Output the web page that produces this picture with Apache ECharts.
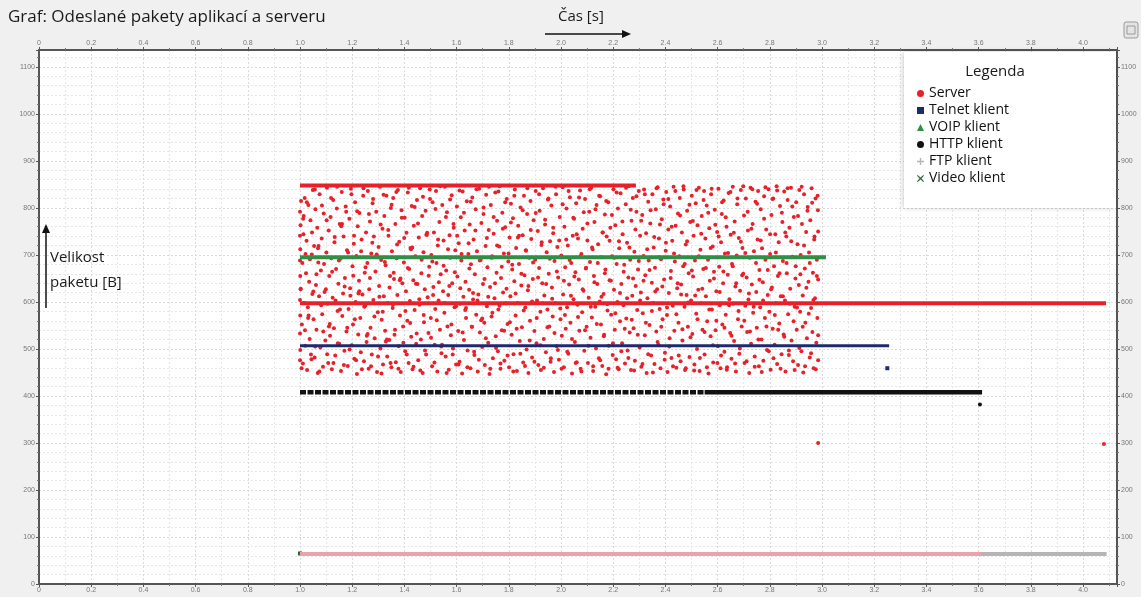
<!DOCTYPE html>
<html>
<head>
<meta charset="utf-8">
<script src="https://cdn.jsdelivr.net/npm/echarts@6/dist/echarts.min.js"></script>
<style>
  html, body { margin: 0; padding: 0; background: #f0f0f0; }
  #chart { width: 1141px; height: 597px; }
</style>
</head>
<body>
<div id="chart"></div>
<script>
// osy
const xMax = 4.13, yMax = 1136;
const legendNames = ['Server', 'Telnet klient', 'VOIP klient', 'HTTP klient', 'FTP klient', 'Video klient'];

// server - odeslane pakety [cas ms, velikost B]
const serverCloud = [
  [1000,792],[1000,741],[1000,688],[1001,655],[1000,604],[1001,571],[1000,533],[1001,498],[1000,476],[1002,763],[1001,712],[1002,627],
  [1004,815],[1007,552],[1009,683],[1011,469],[1013,744],[1016,598],[1018,821],[1020,507],[1023,661],[1025,730],[1027,455],[1030,589],[1032,806],[1035,643],[1037,521],[1040,774],[1042,488],[1045,701],[1047,617],[1049,838],
  [1052,563],[1054,719],[1056,482],[1059,797],[1061,636],[1063,541],[1066,758],[1068,449],[1070,684],[1073,612],[1075,829],[1078,503],[1080,667],[1083,735],[1085,574],[1088,462],[1091,788],[1094,621],[1097,518],
  [1101,705],[1103,843],[1105,596],[1108,470],[1110,752],[1112,655],[1115,528],[1117,781],[1120,693],[1122,457],[1125,609],[1127,817],[1130,544],[1132,727],[1135,486],[1138,670],[1141,799],[1144,581],[1147,639],
  [1150,511],[1152,766],[1155,692],[1157,453],[1160,834],[1162,570],[1165,618],[1167,739],[1170,496],[1172,651],[1175,803],[1178,537],[1180,710],[1183,464],[1186,585],[1189,777],[1192,629],[1195,841],[1198,508],
  [1201,676],[1203,552],[1206,724],[1208,479],[1211,812],[1213,600],[1216,698],[1218,447],[1221,761],[1223,531],[1226,645],[1228,789],[1231,566],[1233,493],[1236,733],[1239,616],[1242,826],[1245,474],[1248,662],
  [1250,592],[1253,748],[1255,515],[1258,683],[1260,836],[1263,458],[1265,627],[1268,771],[1270,545],[1273,703],[1275,488],[1278,810],[1281,604],[1283,739],[1286,523],[1289,665],[1292,792],[1295,451],[1298,578],
  [1301,717],[1303,634],[1306,845],[1308,501],[1311,689],[1313,562],[1316,756],[1318,467],[1321,612],[1323,783],[1326,539],[1328,678],[1331,826],[1334,484],[1336,597],[1339,741],[1342,519],[1345,655],[1348,800],
  [1350,461],[1352,708],[1355,587],[1357,821],[1360,649],[1362,530],[1365,766],[1367,472],[1370,693],[1373,615],[1375,838],[1378,506],[1380,728],[1383,571],[1386,451],[1389,795],[1392,640],[1395,548],[1398,684],
  [1401,779],[1403,495],[1406,623],[1408,747],[1411,560],[1413,833],[1416,470],[1418,670],[1421,602],[1423,715],[1426,526],[1428,804],[1431,457],[1434,646],[1436,762],[1439,583],[1442,697],[1445,511],[1448,817],
  [1450,638],[1453,476],[1455,737],[1458,594],[1460,842],[1463,520],[1465,661],[1468,783],[1470,449],[1473,706],[1475,557],[1478,627],[1481,794],[1483,488],[1486,743],[1489,610],[1492,534],[1495,675],[1498,819],
  [1501,566],[1503,700],[1506,463],[1508,812],[1511,632],[1513,748],[1516,509],[1518,585],[1521,836],[1523,683],[1526,452],[1528,720],[1531,603],[1534,770],[1536,541],[1539,659],[1542,491],[1545,806],[1548,623],
  [1550,731],[1553,577],[1555,845],[1558,484],[1560,667],[1563,791],[1565,548],[1568,615],[1570,456],[1573,742],[1575,694],[1578,529],[1581,827],[1583,640],[1586,501],[1589,758],[1592,589],[1595,710],[1598,467],
  [1601,803],[1603,654],[1606,538],[1608,725],[1611,473],[1613,596],[1616,780],[1618,688],[1621,448],[1623,835],[1626,611],[1628,519],[1631,752],[1634,643],[1636,566],[1639,814],[1642,497],[1645,702],[1648,626],
  [1650,765],[1653,459],[1655,680],[1658,547],[1660,822],[1663,605],[1665,733],[1668,487],[1670,659],[1673,797],[1675,573],[1678,708],[1681,452],[1683,616],[1686,841],[1689,535],[1692,689],[1695,768],[1698,504],
  [1701,638],[1703,787],[1706,556],[1708,466],[1711,719],[1713,828],[1716,591],[1718,674],[1721,513],[1723,753],[1726,447],[1728,632],[1731,806],[1734,569],[1736,697],[1739,480],[1742,745],[1745,608],[1748,833],
  [1750,527],[1753,662],[1755,773],[1758,495],[1760,584],[1763,718],[1765,846],[1768,458],[1770,651],[1773,540],[1775,790],[1778,620],[1781,703],[1783,475],[1786,759],[1789,597],[1792,819],[1795,553],[1798,686],
  [1801,461],[1803,737],[1806,612],[1808,809],[1811,530],[1813,669],[1816,778],[1818,489],[1821,644],[1823,839],[1826,571],[1828,715],[1831,453],[1834,598],[1836,762],[1839,681],[1842,517],[1845,801],[1848,635],
  [1850,546],[1853,742],[1855,471],[1858,826],[1860,657],[1863,588],[1865,710],[1868,499],[1870,787],[1873,625],[1875,449],[1878,694],[1881,560],[1883,815],[1886,734],[1889,482],[1892,649],[1895,774],[1898,538],
  [1901,690],[1903,836],[1906,512],[1908,603],[1911,751],[1913,466],[1916,672],[1918,794],[1921,579],[1923,455],[1926,727],[1928,640],[1931,842],[1934,521],[1936,614],[1939,765],[1942,493],[1945,706],[1948,584],
  [1950,818],[1953,660],[1955,548],[1958,729],[1960,473],[1963,805],[1965,631],[1968,569],[1970,746],[1973,451],[1975,687],[1978,597],[1981,829],[1983,506],[1986,717],[1989,652],[1992,477],[1995,781],[1998,563],
  [2001,699],[2003,528],[2006,844],[2008,616],[2011,461],[2013,760],[2016,674],[2018,543],[2021,799],[2023,589],[2026,720],[2028,490],[2031,637],[2034,823],[2036,556],[2039,683],[2042,448],[2045,741],[2048,606],
  [2050,777],[2053,515],[2055,663],[2058,810],[2060,472],[2063,594],[2065,735],[2068,648],[2070,539],[2073,837],[2075,458],[2078,702],[2081,578],[2083,756],[2086,624],[2089,496],[2092,819],[2095,671],[2098,547],
  [2101,731],[2103,470],[2106,609],[2108,792],[2111,685],[2113,524],[2116,843],[2118,567],[2121,712],[2123,453],[2126,655],[2128,770],[2131,590],[2134,501],[2136,806],[2139,638],[2142,723],[2145,480],[2148,601],
  [2150,825],[2153,552],[2155,695],[2158,464],[2160,748],[2163,617],[2165,530],[2168,786],[2170,669],[2173,446],[2175,739],[2178,582],[2181,812],[2183,507],[2186,646],[2189,758],[2192,573],[2195,697],[2198,487],
  [2201,840],[2203,626],[2206,541],[2208,763],[2211,478],[2213,681],[2216,600],[2218,799],[2221,457],[2223,714],[2226,559],[2228,831],[2231,638],[2234,512],[2236,744],[2239,593],[2242,679],[2245,469],[2248,808],
  [2250,565],[2253,726],[2255,497],[2258,652],[2260,846],[2263,535],[2265,690],[2268,455],[2270,773],[2273,613],[2275,821],[2278,544],[2281,707],[2283,475],[2286,634],[2289,792],[2292,583],[2295,669],[2298,836],
  [2301,503],[2303,741],[2306,620],[2308,462],[2311,785],[2313,576],[2316,698],[2318,839],[2321,529],[2323,657],[2326,746],[2328,449],[2331,608],[2334,813],[2336,688],[2339,551],[2342,767],[2345,486],[2348,641],
  [2350,829],[2353,598],[2355,716],[2358,468],[2360,673],[2363,797],[2365,537],[2368,627],[2370,844],[2373,509],[2375,735],[2378,585],[2381,459],[2383,691],[2386,776],[2389,563],[2392,818],[2395,648],[2398,492],
  [2401,709],[2403,834],[2406,572],[2408,451],[2411,754],[2413,619],[2416,523],[2418,803],[2421,666],[2423,481],[2426,730],[2428,592],[2431,845],[2434,539],[2436,686],[2439,762],[2442,460],[2445,629],[2448,788],
  [2450,556],[2453,697],[2455,821],[2458,474],[2460,637],[2463,748],[2465,518],[2468,676],[2470,839],[2473,590],[2475,455],[2478,722],[2481,615],[2483,794],[2486,547],[2489,661],[2492,483],[2495,770],[2498,603],
  [2501,826],[2503,532],[2506,654],[2508,741],[2511,467],[2513,688],[2516,810],[2518,575],[2521,500],[2523,763],[2526,626],[2528,843],[2531,453],[2534,711],[2536,597],[2539,783],[2542,541],[2545,670],[2548,836],
  [2550,488],[2553,735],[2555,612],[2558,805],[2560,559],[2563,690],[2565,448],[2568,757],[2570,645],[2573,527],[2575,829],[2578,584],[2581,718],[2583,471],[2586,664],[2589,796],[2592,540],[2595,623],[2598,749],
  [2601,506],[2603,841],[2606,675],[2608,593],[2611,459],[2613,727],[2616,787],[2618,552],[2621,640],[2623,816],[2626,494],[2628,703],[2631,573],[2634,760],[2636,461],[2639,658],[2642,832],[2645,606],[2648,534],
  [2650,743],[2653,479],[2655,681],[2658,845],[2660,596],[2663,517],[2665,771],[2668,633],[2670,452],[2673,699],[2675,808],[2678,563],[2681,736],[2683,490],[2686,624],[2689,838],[2692,548],[2695,715],[2698,660],
  [2701,784],[2703,470],[2706,592],[2708,820],[2711,652],[2713,536],[2716,752],[2718,605],[2721,449],[2723,694],[2726,843],[2728,511],[2731,637],[2734,766],[2736,577],[2739,708],[2742,484],[2745,813],[2748,621],
  [2750,545],[2753,733],[2755,836],[2758,463],[2760,668],[2763,589],[2765,797],[2768,520],[2770,714],[2773,642],[2775,475],[2778,825],[2781,566],[2783,690],[2786,754],[2789,498],[2792,615],[2795,840],[2798,579],
  [2801,702],[2803,456],[2806,785],[2808,631],[2811,543],[2813,820],[2816,676],[2818,509],[2821,744],[2823,597],[2826,846],[2828,468],[2831,655],[2834,727],[2836,554],[2839,804],[2842,612],[2845,489],[2848,770],
  [2850,687],[2853,531],[2855,835],[2858,603],[2860,452],[2863,739],[2865,661],[2868,817],[2870,574],[2873,497],[2875,758],[2878,628],[2881,843],[2883,518],[2886,696],[2889,474],[2892,781],[2895,590],[2898,650],
  [2901,812],[2903,541],[2906,723],[2908,466],[2911,636],[2913,838],[2916,579],[2918,700],[2921,495],[2923,766],[2926,614],[2928,450],[2931,829],[2934,671],[2936,556],[2939,749],[2942,523],[2945,802],[2948,643],
  [2950,705],[2953,482],[2955,774],[2958,587],[2960,842],[2963,536],[2965,662],[2968,459],[2970,733],[2973,608],[2975,820],[2978,513],[2980,690],[2982,566],[2984,795],[2985,476],[2985,648],[2985,750]
];
// server - druhy proud paketu [cas ms, velikost B]
const serverCloud2 = [
  [1003,628],[1006,459],[1012,777],[1014,783],[1019,540],[1021,702],[1026,812],[1031,566],[1033,571],[1038,691],[1044,478],[1046,748],[1051,622],[1057,839],[1058,505],[1063,659],[1069,714],[1071,719],[1074,452],[1081,593],[1084,805],[1089,537],[1092,681],[1099,627],
  [1102,774],[1104,489],[1111,548],[1114,553],[1119,821],[1123,664],[1128,470],[1133,738],[1136,603],[1142,845],[1145,512],[1149,688],[1153,584],[1158,761],[1161,766],[1168,466],[1171,633],[1177,792],[1181,545],[1184,705],[1190,499],[1193,613],[1197,829],
  [1204,656],[1207,741],[1210,563],[1215,476],[1219,793],[1224,618],[1227,623],[1234,708],[1237,457],[1243,842],[1246,590],[1251,674],[1256,528],[1259,532],[1264,787],[1268,651],[1272,463],[1277,726],[1280,819],[1285,569],[1291,697],[1294,701],[1299,484],
  [1304,611],[1309,765],[1312,448],[1317,579],[1320,828],[1325,685],[1329,516],[1333,520],[1338,753],[1343,631],[1347,470],[1351,807],[1356,594],[1359,662],[1364,541],[1369,834],[1372,722],[1377,458],[1382,646],[1385,650],[1390,779],[1396,513],[1399,736],
  [1404,581],[1409,488],[1413,672],[1417,843],[1422,555],[1425,712],[1430,716],[1435,462],[1439,802],[1444,639],[1447,533],[1452,767],[1457,606],[1461,454],[1466,690],[1471,824],[1474,572],[1479,497],[1484,743],[1487,747],[1493,656],[1497,839],
  [1502,524],[1507,686],[1510,615],[1515,471],[1519,798],[1524,561],[1529,733],[1532,642],[1537,846],[1541,505],[1544,509],[1550,677],[1554,598],[1559,781],[1562,449],[1567,712],[1572,634],[1575,818],[1580,552],[1585,488],[1588,766],[1593,663],[1598,591],
  [1602,741],[1607,467],[1611,837],[1614,629],[1619,702],[1623,535],[1628,790],[1633,583],[1636,587],[1641,461],[1646,725],[1649,671],[1654,813],[1659,547],[1663,619],[1667,494],[1672,752],[1676,840],[1680,603],[1685,477],[1689,688],[1694,561],[1698,565],
  [1703,801],[1707,649],[1712,523],[1716,736],[1721,611],[1724,845],[1729,458],[1734,694],[1737,577],[1742,781],[1747,640],[1751,502],[1755,720],[1760,835],[1764,592],[1768,469],[1773,675],[1777,756],[1782,539],[1786,812],[1791,628],[1795,486],[1799,703],
  [1804,557],[1808,769],[1813,679],[1817,452],[1821,826],[1826,618],[1830,543],[1835,737],[1839,741],[1844,490],[1848,660],[1853,795],[1857,582],[1862,464],[1866,709],[1871,842],[1875,634],[1880,518],[1884,753],[1889,601],[1893,684],[1898,473],
  [1903,789],[1907,566],[1912,652],[1916,829],[1921,508],[1925,721],[1930,597],[1934,460],[1939,775],[1943,638],[1948,546],[1952,820],[1957,692],[1961,480],[1966,607],[1970,758],[1975,534],[1979,845],[1984,665],[1988,498],[1993,731],[1997,586],
  [2002,458],[2006,808],[2011,645],[2015,572],[2020,733],[2024,494],[2029,836],[2033,689],[2038,613],[2042,521],[2047,779],[2051,654],[2056,470],[2060,744],[2065,568],[2069,822],[2074,697],[2078,452],[2083,627],[2087,791],[2092,540],[2096,673],
  [2101,767],[2105,507],[2110,840],[2114,590],[2119,716],[2123,463],[2128,642],[2132,797],[2137,553],[2141,683],[2146,826],[2150,476],[2155,611],[2159,748],[2164,527],[2168,661],[2173,815],[2177,595],[2182,458],[2186,730],[2191,645],[2195,785],[2199,512],
  [2204,694],[2208,576],[2213,833],[2217,460],[2222,729],[2226,619],[2231,495],[2235,771],[2240,664],[2244,543],[2249,843],[2253,608],[2258,481],[2262,716],[2267,796],[2271,562],[2276,650],[2280,454],[2285,754],[2289,825],[2294,530],[2298,687],
  [2303,603],[2307,773],[2312,468],[2316,645],[2321,829],[2325,556],[2330,712],[2334,489],[2339,668],[2343,795],[2348,581],[2352,450],[2357,738],[2361,622],[2366,842],[2370,515],[2375,695],[2379,765],[2384,547],[2388,633],[2393,808],[2397,477],
  [2402,726],[2406,588],[2411,819],[2415,505],[2420,651],[2424,760],[2429,463],[2433,703],[2438,836],[2442,574],[2447,640],[2451,486],[2456,784],[2460,616],[2465,542],[2469,846],[2474,681],[2478,459],[2483,729],[2487,599],[2492,807],[2496,525],
  [2501,667],[2505,772],[2510,454],[2514,614],[2519,838],[2523,563],[2528,697],[2532,481],[2537,745],[2541,628],[2546,817],[2550,536],[2555,672],[2559,461],[2564,790],[2568,584],[2573,715],[2577,841],[2582,508],[2586,650],[2591,764],[2595,560],[2599,470],
  [2604,739],[2608,621],[2613,486],[2617,812],[2622,665],[2626,545],[2631,780],[2635,456],[2640,704],[2644,593],[2649,834],[2653,528],[2658,676],[2662,747],[2667,469],[2671,640],[2676,820],[2680,581],[2685,501],[2689,728],[2694,657],[2698,846],
  [2702,560],[2706,704],[2711,474],[2715,792],[2720,618],[2724,537],[2729,756],[2733,840],[2738,590],[2742,462],[2747,683],[2751,809],[2756,520],[2760,647],[2765,731],[2769,451],[2774,603],[2778,777],[2783,844],[2787,548],[2792,668],[2796,495],
  [2801,744],[2805,627],[2810,819],[2814,480],[2819,572],[2823,705],[2828,837],[2832,541],[2837,661],[2841,458],[2846,790],[2850,612],[2855,526],[2859,748],[2864,683],[2868,842],[2873,487],[2877,596],[2882,729],[2886,803],[2891,559],[2895,455],[2899,676],
  [2904,588],[2908,783],[2913,502],[2917,659],[2922,845],[2926,547],[2931,720],[2935,463],[2940,630],[2944,794],[2949,575],[2953,683],[2958,491],[2962,811],[2967,604],[2971,739],[2976,457],[2980,655],[2983,826],[2985,529]
];
const serverSingles = [[2.985, 300], [4.08, 298]];
const serverTop = [[1.0, 848], [2.287, 848]];
const serverMid = [[1.0, 597], [4.088, 597]];
const serverLow = [[1.0, 64], [3.61, 64]];

// klienti
const telnetLine = [[1.0, 507], [3.257, 507]];
const telnetSingles = [[3.25, 459]];
const voipLine = [[1.0, 695], [3.015, 695]];
const httpDashed = [[1.0, 408], [2.55, 408]];
const httpSolid = [[2.55, 408], [3.613, 408]];
const httpSingles = [[3.605, 382]];
const ftpLine = [[1.0, 64], [4.09, 64]];
const videoSingles = [[1.0, 65]];

const colors = {
  server: '#e8202a', serverLow: '#e9a3ad', telnet: '#1f2a6c',
  voip: '#2f8f45', http: '#111111', ftp: '#b5b5b5', video: '#2a6b34'
};

var chart = echarts.init(document.getElementById('chart'));

function xLabel(v) {
  var k = v / 0.2;
  if (Math.abs(k - Math.round(k)) > 1e-6) return '';
  return v === 0 ? '0' : v.toFixed(1);
}
function yLabel(v) {
  return v % 100 === 0 ? String(v) : '';
}

function xAxisCfg(pos, grid) {
  return {
    type: 'value', position: pos, min: 0, max: xMax, interval: 0.2,
    axisLine: { show: true, onZero: false, lineStyle: { color: '#555', width: 2 } },
    axisTick: { show: true, length: 3, lineStyle: { color: '#555' } },
    minorTick: { show: true, splitNumber: 2, length: 2, lineStyle: { color: '#777' } },
    axisLabel: { fontSize: 7, color: '#777', margin: 3, formatter: xLabel },
    splitLine: { show: grid, lineStyle: { color: '#dadada', type: [2, 2] } },
    minorSplitLine: { show: grid, lineStyle: { color: '#e6e6e6', type: [2, 2] } }
  };
}
function yAxisCfg(pos, grid) {
  return {
    type: 'value', position: pos, min: 0, max: yMax, interval: 100,
    axisLine: { show: true, onZero: false, lineStyle: { color: '#555', width: 2 } },
    axisTick: { show: true, length: 3, lineStyle: { color: '#555' } },
    minorTick: { show: true, splitNumber: 5, length: 2, lineStyle: { color: '#777' } },
    axisLabel: { fontSize: 7, color: '#777', margin: 4, formatter: yLabel },
    splitLine: { show: grid, lineStyle: { color: '#dadada', type: [2, 2] } },
    minorSplitLine: { show: grid, lineStyle: { color: '#e6e6e6', type: [2, 2] } }
  };
}

function segment(name, data, color, width, type) {
  return {
    name: name, type: 'line', data: data, showSymbol: false, silent: true,
    itemStyle: { color: color },
    lineStyle: { color: color, width: width, type: type || 'solid', cap: 'butt' }
  };
}
function dots(name, data, color, symbol, size) {
  return {
    name: name, type: 'scatter', data: data, symbol: symbol, symbolSize: size,
    itemStyle: { color: color, opacity: 1 }
  };
}

var plusPath = 'path://M4,0L6,0L6,4L10,4L10,6L6,6L6,10L4,10L4,6L0,6L0,4L4,4Z';
var crossPath = 'path://M1,0L5,3.6L9,0L10,1L6.4,5L10,9L9,10L5,6.4L1,10L0,9L3.6,5L0,1Z';

var option = {
  backgroundColor: '#f0f0f0',
  animation: false,
  grid: { left: 39, right: 24, top: 50, bottom: 13, show: true, backgroundColor: '#fff', borderWidth: 0 },
  xAxis: [xAxisCfg('bottom', true), xAxisCfg('top', false)],
  yAxis: [yAxisCfg('left', true), yAxisCfg('right', false)],
  legend: {
    orient: 'vertical', left: 917, top: 85, padding: 0, itemGap: 0,
    itemWidth: 7, itemHeight: 7, z: 6,
    textStyle: { fontFamily: 'Open Sans', fontSize: 14, color: '#111', lineHeight: 17 },
    data: [
      { name: legendNames[0], icon: 'circle' },
      { name: legendNames[1], icon: 'rect' },
      { name: legendNames[2], icon: 'triangle' },
      { name: legendNames[3], icon: 'circle' },
      { name: legendNames[4], icon: plusPath },
      { name: legendNames[5], icon: crossPath }
    ]
  },
  graphic: [
    { type: 'text', left: 8, top: 9, style: { text: 'Graf: Odeslané pakety aplikací a serveru', font: '17px "Open Sans"', fill: '#1a1a1a' } },
    { type: 'text', left: 558, top: 9, style: { text: 'Čas [s]', font: '15px "Open Sans"', fill: '#1a1a1a' } },
    { type: 'line', shape: { x1: 545, y1: 34, x2: 623, y2: 34 }, style: { stroke: '#111', lineWidth: 1.5 } },
    { type: 'polygon', shape: { points: [[622, 30], [631, 34], [622, 38]] }, style: { fill: '#111' } },
    { type: 'text', left: 50, top: 250, z: 5, style: { text: 'Velikost', font: '15px "Open Sans"', fill: '#1a1a1a' } },
    { type: 'text', left: 50, top: 275, z: 5, style: { text: 'paketu [B]', font: '15px "Open Sans"', fill: '#1a1a1a' } },
    { type: 'line', z: 5, shape: { x1: 46, y1: 308, x2: 46, y2: 232 }, style: { stroke: '#111', lineWidth: 1.5 } },
    { type: 'polygon', z: 5, shape: { points: [[42, 233], [46, 224], [50, 233]] }, style: { fill: '#111' } },
    { type: 'rect', z: 5, shape: { x: 904, y: 52, width: 212, height: 156 },
      style: { fill: '#fff', shadowBlur: 5, shadowColor: 'rgba(0,0,0,0.2)', shadowOffsetX: -1 } },
    { type: 'text', z: 6, x: 995, y: 72, style: { text: 'Legenda', font: '15px "Open Sans"', fill: '#1a1a1a', align: 'center', verticalAlign: 'middle' } },
    { type: 'rect', shape: { x: 1124, y: 22, width: 14, height: 16, r: 2 }, style: { fill: '#e4e4e4', stroke: '#9a9a9a', lineWidth: 1 } },
    { type: 'rect', shape: { x: 1127, y: 26, width: 8, height: 8 }, style: { fill: 'none', stroke: '#9a9a9a', lineWidth: 1 } }
  ],
  series: [
    dots('Server', serverCloud.map(p => [p[0] / 1000, p[1]]), colors.server, 'circle', 4),
    dots('Server', serverCloud2.map(p => [p[0] / 1000, p[1]]), colors.server, 'circle', 4),
    dots('Server', serverSingles, colors.server, 'circle', 4),
    segment('FTP klient', ftpLine, colors.ftp, 4),
    segment('Server', serverLow, colors.serverLow, 4),
    segment('Server', serverTop, colors.server, 4),
    segment('Server', serverMid, colors.server, 4),
    segment('VOIP klient', voipLine, colors.voip, 4),
    segment('Telnet klient', telnetLine, colors.telnet, 3),
    dots('Telnet klient', telnetSingles, colors.telnet, 'rect', 4),
    segment('HTTP klient', httpDashed, colors.http, 4.5, [6, 1.5]),
    segment('HTTP klient', httpSolid, colors.http, 4.5),
    dots('HTTP klient', httpSingles, colors.http, 'circle', 4),
    dots('Video klient', videoSingles, colors.video, 'rect', 4)
  ]
};

chart.setOption(option);
</script>
</body>
</html>
